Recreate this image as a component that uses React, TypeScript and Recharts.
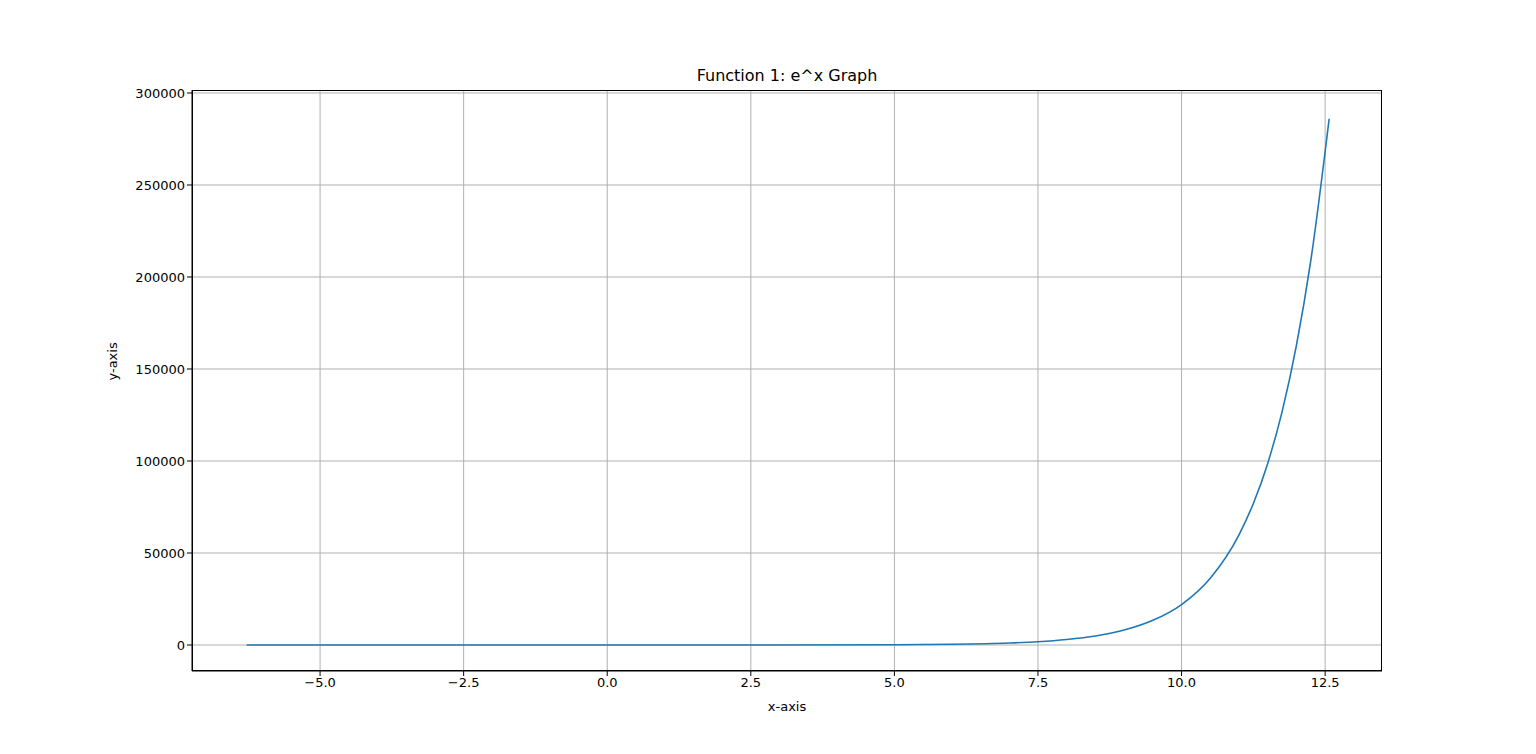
import { CartesianGrid, Line, LineChart, XAxis, YAxis } from 'recharts'

// Values
const xValues = [-6.28, -5, -2.5, 0, 2.5, 5, 6, 7, 7.5, 8, 8.5, 9, 9.5, 10, 10.5, 11, 11.25, 11.5, 11.75, 12, 12.25, 12.57]
const yValues = [0, 0, 0, 1, 12, 150, 400, 1100, 1800, 3000, 4900, 8100, 13400, 22000, 36300, 59900, 76900, 98700, 126700, 162800, 208900, 286000]
const xTicks = [-5, -2.5, 0, 2.5, 5, 7.5, 10, 12.5]
const yTicks = [0, 50000, 100000, 150000, 200000, 250000, 300000]

const data = xValues.map((x, i) => ({ x, y: yValues[i] }))
const font = 'DejaVu Sans, sans-serif'
const tick = { fill: '#000', fontSize: 13, fontFamily: font }

export default function App() {
  return (
    <div style={{ position: 'absolute', left: 0, top: 0, width: 1536, height: 754, background: '#fff' }}>
      <div style={{ position: 'absolute', top: 66, left: 192, width: 1190, textAlign: 'center', fontFamily: font, fontSize: 16 }}>
        Function 1: e^x Graph
      </div>
      <LineChart width={1536} height={754} data={data} margin={{ top: 90, right: 154, bottom: 43, left: 112 }}>
        <CartesianGrid stroke="#b0b0b0" horizontalValues={yTicks} verticalValues={xTicks} />
        <XAxis
          dataKey="x"
          type="number"
          domain={[-7.23, 13.49]}
          ticks={xTicks}
          tickFormatter={(v) => v.toFixed(1).replace('-', '\u2212')}
          tick={tick}
          stroke="#000"
          tickSize={5}
          height={40}
          label={{ value: 'x-axis', position: 'insideBottom', offset: 0, fill: '#000', fontSize: 13, fontFamily: font }}
        />
        <YAxis
          type="number"
          domain={[-14130, 301630]}
          ticks={yTicks}
          tick={tick}
          stroke="#000"
          tickSize={5}
          width={80}
          label={{ value: 'y-axis', angle: -90, position: 'insideLeft', offset: 0, fill: '#000', fontSize: 13, fontFamily: font }}
        />
        <Line dataKey="y" type="monotone" stroke="#1f77b4" strokeWidth={1.6} dot={false} isAnimationActive={false} />
      </LineChart>
      <div style={{ position: 'absolute', left: 192, top: 90, width: 1190, height: 581, boxSizing: 'border-box', border: '1px solid #000', pointerEvents: 'none' }} />
    </div>
  )
}
